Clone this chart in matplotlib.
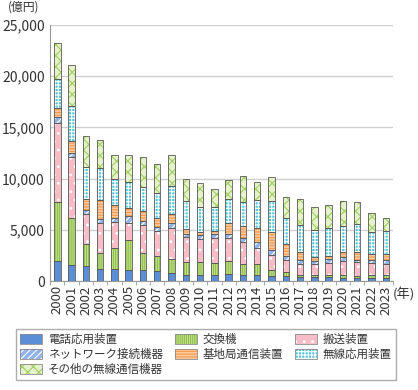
import matplotlib.pyplot as plt
import numpy as np
from matplotlib.patches import Patch

plt.rcParams['font.family'] = ['Noto Sans CJK JP', 'DejaVu Sans']
plt.rcParams['hatch.linewidth'] = 0.8

years = [str(y) for y in range(2000, 2024)]

# 億円
denwa = [1950, 1600, 1440, 1210, 1180, 1110, 1050, 1010, 820, 620, 620, 620,
         690, 620, 620, 520, 460, 390, 390, 390, 330, 330, 360, 360]
koukanki = [5750, 4580, 2220, 1570, 2090, 2880, 1700, 1440, 1370, 1210, 1210, 1150,
            1270, 1080, 1020, 620, 390, 260, 230, 200, 260, 190, 230, 200]
hansou = [7750, 5920, 2880, 2910, 2520, 1700, 2710, 2490, 3040, 2490, 2260, 2450,
          2230, 2130, 1600, 1410, 1240, 1050, 1020, 1210, 1370, 1310, 1180, 1080]
network = [550, 400, 390, 360, 390, 650, 460, 390, 460, 260, 390, 420,
           420, 420, 550, 520, 330, 390, 320, 360, 360, 200, 260, 420]
kichikyoku = [850, 1150, 1050, 1830, 1240, 820, 950, 820, 850, 550, 330, 260,
              1050, 1180, 1380, 1700, 1180, 720, 390, 330, 490, 850, 650, 620]
musen_ouyou = [2850, 3400, 3140, 3140, 2520, 2490, 2290, 2420, 2750, 2650, 2380, 2290,
               2320, 2320, 2710, 3050, 2580, 2650, 2680, 2740, 2620, 2740, 2090, 2190]
sonota = [3500, 4030, 3080, 2780, 2390, 2680, 3000, 2880, 3040, 2160, 2360, 1840,
          1860, 2490, 1830, 2350, 2060, 2580, 2190, 2220, 2350, 2130, 1900, 1340]

series = [
    ('電話応用装置', denwa, '#5b8ed6', None, '#5b8ed6'),
    ('交換機', koukanki, '#c6e193', '|' * 8, '#8dbf45'),
    ('搬送装置', hansou, '#f8bcc6', '..', 'white'),
    ('ネットワーク接続機器', network, '#8fb3ea', '/' * 5, 'white'),
    ('基地局通信装置', kichikyoku, '#fcc899', '-' * 6, '#f29a50'),
    ('無線応用装置', musen_ouyou, '#55c6dc', '+' * 5, 'white'),
    ('その他の無線通信機器', sonota, '#e6f2cc', 'x' * 3, '#9fcf5c'),
]

fig = plt.figure(figsize=(4.18, 3.90), dpi=100)
ax = fig.add_axes([0.12, 0.279, 0.82, 0.657])

x = np.arange(len(years))
w = 0.45
bottom = np.zeros(len(years))
handles = {}
for name, vals, fc, hatch, hc in series:
    vals = np.array(vals, dtype=float)
    ax.bar(x, vals, w, bottom=bottom, color=fc, edgecolor=hc, hatch=hatch,
           linewidth=0, zorder=2)
    ax.bar(x, vals, w, bottom=bottom, fill=False, edgecolor='#5a5a5a',
           linewidth=0.6, zorder=3)
    bottom += vals
    handles[name] = (Patch(facecolor=fc, edgecolor=hc, hatch=hatch, linewidth=0),
                     Patch(fill=False, edgecolor='#8a8a8a', linewidth=0.6))

ax.set_xlim(-0.5, len(years) - 0.5)
ax.set_ylim(0, 25000)
ax.set_yticks(range(0, 25001, 5000))
ax.set_yticklabels([f'{v:,}' for v in range(0, 25001, 5000)], fontsize=10, color='#333333')
ax.yaxis.grid(True, color='#d0d0d0', linewidth=1, zorder=0)
ax.set_axisbelow(True)

ax.set_xticks(x)
ax.set_xticklabels(years, rotation=90, fontsize=9.5, color='#333333')
ax.tick_params(axis='x', length=0, pad=3)
ax.set_xticks(np.arange(-0.5, len(years), 1), minor=True)
ax.tick_params(axis='x', which='minor', length=3, color='#999999')
ax.tick_params(axis='y', length=0, pad=4)

for s in ['top', 'right']:
    ax.spines[s].set_visible(False)
ax.spines['left'].set_color('#999999')
ax.spines['bottom'].set_color('#999999')

fig.text(0.02, 0.982, '(億円)', fontsize=8.5, color='#333333', va='center', ha='left')
fig.text(0.94, 0.245, '(年)', fontsize=9.5, color='#333333', va='center', ha='left')

order = ['電話応用装置', 'ネットワーク接続機器', 'その他の無線通信機器',
         '交換機', '基地局通信装置', '搬送装置', '無線応用装置']
leg = fig.legend([handles[k] for k in order], order, ncol=3,
                 loc='lower left', bbox_to_anchor=(0.024, 0.01, 0.938, 0.14),
                 mode='expand', fontsize=8.3, frameon=True, fancybox=False,
                 edgecolor='#999999', handlelength=1.9, handleheight=1.0,
                 handletextpad=0.5, columnspacing=0.8, labelspacing=0.15,
                 borderpad=0.4)
leg.get_frame().set_linewidth(1)
for t in leg.get_texts():
    t.set_color('#333333')

fig.savefig('out.png', dpi=100)
